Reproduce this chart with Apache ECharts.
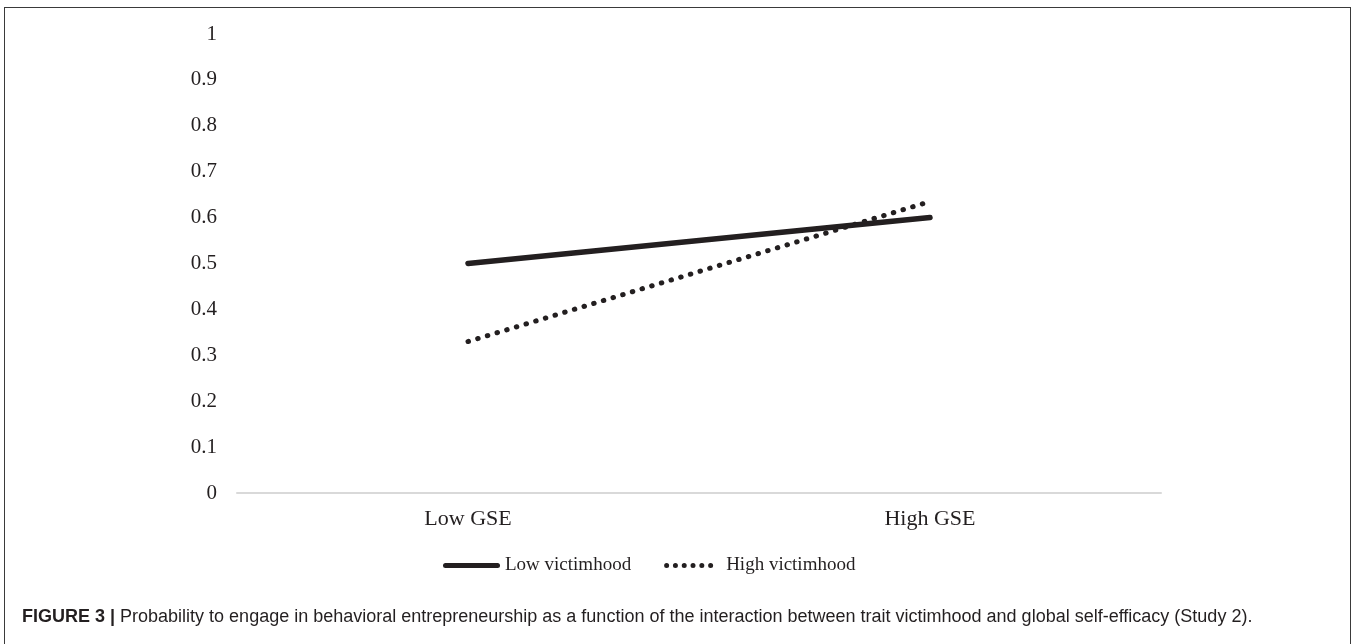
<!DOCTYPE html>
<html>
<head>
<meta charset="utf-8">
<script src="https://cdn.jsdelivr.net/npm/echarts@6/dist/echarts.min.js"></script>
<style>
html,body{margin:0;padding:0;background:#fff;width:1354px;height:644px;overflow:hidden;}
#frame{position:absolute;left:4px;top:7px;width:1347px;height:720px;border:1.5px solid #3a3a3a;box-sizing:border-box;}
#chart{position:absolute;left:0;top:0;width:1354px;height:644px;}
</style>
</head>
<body>
<div id="frame"></div>
<div id="chart"></div>
<script>
const categories = ['Low GSE', 'High GSE'];
const lowVictimhood = [0.50, 0.60];
const highVictimhood = [0.33, 0.635];
const yTicks = [0, 0.1, 0.2, 0.3, 0.4, 0.5, 0.6, 0.7, 0.8, 0.9, 1];
const seriesNames = ['Low victimhood', 'High victimhood'];
const captionBold = 'FIGURE 3 |';
const captionText = ' Probability to engage in behavioral entrepreneurship as a function of the interaction between trait victimhood and global self-efficacy (Study 2).';

// legend icons (shape only)
const solidIcon = 'path://M0,0M57,6M2.5,0.5H54.5A2.5,2.5 0 0 1 54.5,5.5H2.5A2.5,2.5 0 0 1 2.5,0.5Z';
function dotsIcon() {
  let p = 'path://M0,0M57,6';
  const r = 2.5;
  for (let i = 0; i < 6; i++) {
    const cx = 2.5 + i * 8.8;
    p += 'M' + (cx - r) + ',3a' + r + ',' + r + ' 0 1,0 ' + (2 * r) + ',0a' + r + ',' + r + ' 0 1,0 ' + (-2 * r) + ',0Z';
  }
  return p;
}

const chart = echarts.init(document.getElementById('chart'), null, {renderer: 'canvas'});
const serif = '"Liberation Serif", "Times New Roman", serif';
const sans = '"Liberation Sans", Arial, sans-serif';
const ink = '#231f20';
chart.setOption({
  animation: false,
  backgroundColor: 'transparent',
  grid: {left: 237, right: 193, top: 34, bottom: 151, containLabel: false},
  xAxis: {
    type: 'category',
    data: categories,
    boundaryGap: true,
    axisLine: {show: true, lineStyle: {color: '#d9d9d9', width: 2}},
    axisTick: {show: false},
    axisLabel: {color: ink, fontFamily: serif, fontSize: 22, margin: 15}
  },
  yAxis: {
    type: 'value',
    min: yTicks[0],
    max: yTicks[yTicks.length - 1],
    interval: 0.1,
    axisLine: {show: false},
    axisTick: {show: false},
    splitLine: {show: false},
    axisLabel: {color: ink, fontFamily: serif, fontSize: 21, margin: 20,
      formatter: v => String(Math.round(v * 10) / 10)}
  },
  legend: {
    left: 438,
    top: 551,
    itemWidth: 57,
    itemHeight: 6,
    itemGap: 33,
    textStyle: {color: ink, fontFamily: serif, fontSize: 19},
    data: [
      {name: seriesNames[0], icon: solidIcon},
      {name: seriesNames[1], icon: dotsIcon()}
    ]
  },
  series: [
    {
      name: seriesNames[0], type: 'line', data: lowVictimhood,
      symbol: 'none',
      lineStyle: {color: ink, width: 5.5, cap: 'round'},
      itemStyle: {color: ink}
    },
    {
      name: seriesNames[1], type: 'line', data: highVictimhood,
      symbol: 'none',
      lineStyle: {color: ink, width: 5, type: [0.5, 9.6], cap: 'round'},
      itemStyle: {color: ink}
    }
  ],
  graphic: [{
    type: 'text',
    left: 22,
    top: 608,
    style: {
      rich: {
        b: {fontFamily: sans, fontWeight: 'bold', fontSize: 18, fill: ink},
        n: {fontFamily: sans, fontSize: 18, fill: ink}
      },
      text: '{b|' + captionBold + '}{n|' + captionText + '}'
    }
  }]
});
</script>
</body>
</html>
